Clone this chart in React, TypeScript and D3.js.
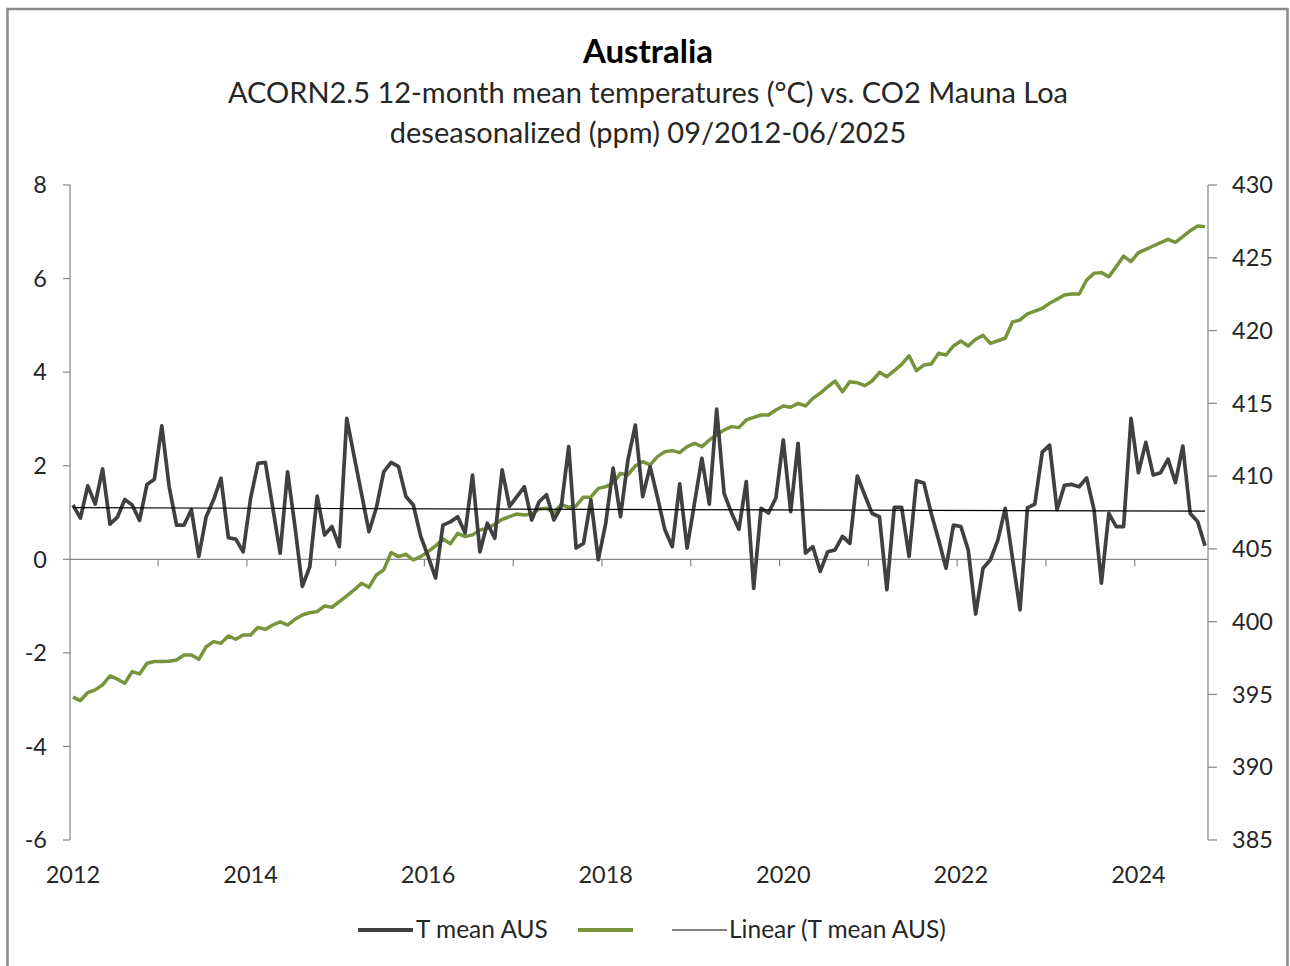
import React from 'react';
import * as d3 from 'd3';

// 12-month mean temperature anomaly, Australia (ACORN2.5), 09/2012 .. 06/2025, monthly
const tempAus = [
  1.16, 0.88, 1.57, 1.18, 1.93, 0.75, 0.90, 1.28, 1.16, 0.83, 1.60, 1.71,
  2.85, 1.55, 0.73, 0.73, 1.06, 0.06, 0.91, 1.27, 1.73, 0.46, 0.43, 0.16,
  1.30, 2.05, 2.07, 1.10, 0.13, 1.87, 0.70, -0.58, -0.16, 1.35, 0.52, 0.70,
  0.27, 3.01, 2.20, 1.40, 0.59, 1.10, 1.87, 2.07, 1.98, 1.34, 1.16, 0.49,
  0.06, -0.40, 0.73, 0.80, 0.91, 0.56, 1.80, 0.16, 0.77, 0.45, 1.91, 1.13,
  1.34, 1.55, 0.84, 1.23, 1.38, 0.84, 1.13, 2.41, 0.24, 0.34, 1.27, -0.01,
  0.77, 1.95, 0.91, 2.12, 2.87, 1.34, 1.98, 1.32, 0.63, 0.27, 1.61, 0.24,
  1.20, 2.16, 1.18, 3.21, 1.41, 0.99, 0.64, 1.66, -0.62, 1.09, 0.99, 1.31,
  2.55, 1.02, 2.48, 0.13, 0.27, -0.26, 0.16, 0.20, 0.49, 0.34, 1.78, 1.38,
  0.98, 0.91, -0.65, 1.11, 1.11, 0.06, 1.68, 1.63, 0.98, 0.41, -0.19, 0.73,
  0.70, 0.20, -1.17, -0.19, -0.01, 0.41, 1.09, 0.00, -1.08, 1.10, 1.18, 2.29,
  2.44, 1.06, 1.58, 1.60, 1.55, 1.74, 1.06, -0.51, 0.98, 0.70, 0.70, 3.01,
  1.85, 2.50, 1.80, 1.85, 2.14, 1.64, 2.42, 0.98, 0.81, 0.29
];

// CO2 Mauna Loa, deseasonalized (ppm), same months
const co2MaunaLoa = [
  394.81, 394.58, 395.13, 395.31, 395.66, 396.27, 396.05, 395.77, 396.57, 396.41, 397.14, 397.26,
  397.26, 397.28, 397.37, 397.71, 397.71, 397.41, 398.28, 398.63, 398.51, 399.02, 398.79, 399.08,
  399.08, 399.61, 399.47, 399.77, 399.99, 399.77, 400.16, 400.46, 400.62, 400.69, 401.08, 400.99,
  401.38, 401.77, 402.18, 402.64, 402.36, 403.21, 403.56, 404.75, 404.47, 404.63, 404.24, 404.47,
  404.81, 405.20, 405.68, 405.35, 406.07, 405.84, 405.96, 406.30, 406.41, 406.69, 407.03, 407.21,
  407.40, 407.33, 407.40, 407.74, 407.79, 407.49, 408.06, 407.86, 407.95, 408.55, 408.55, 409.16,
  409.28, 409.51, 410.19, 410.08, 410.70, 410.99, 410.77, 411.34, 411.68, 411.75, 411.61, 412.02,
  412.25, 412.02, 412.48, 412.83, 413.17, 413.40, 413.33, 413.86, 414.04, 414.20, 414.20, 414.54,
  414.82, 414.73, 415.00, 414.82, 415.34, 415.70, 416.14, 416.53, 415.80, 416.49, 416.42, 416.21,
  416.53, 417.13, 416.83, 417.24, 417.68, 418.27, 417.24, 417.63, 417.70, 418.44, 418.32, 418.94,
  419.28, 418.94, 419.40, 419.67, 419.12, 419.30, 419.47, 420.60, 420.73, 421.14, 421.34, 421.53,
  421.87, 422.15, 422.44, 422.51, 422.51, 423.47, 423.93, 423.98, 423.70, 424.39, 425.12, 424.73,
  425.35, 425.58, 425.81, 426.04, 426.27, 426.06, 426.45, 426.86, 427.18, 427.14
];

const yearLabels = ['2012', '2014', '2016', '2018', '2020', '2022', '2024'];
const leftTicks = [-6, -4, -2, 0, 2, 4, 6, 8];
const rightTicks = [385, 390, 395, 400, 405, 410, 415, 420, 425, 430];

const FONT = "Lato, 'Open Sans', sans-serif";
const AXIS = '#868686';
const TEXT = '#262626';
const T_COLOR = '#404040';
const CO2_COLOR = '#77933C';

const plot = { left: 70, right: 1208, top: 185, bottom: 840 };

export default function App() {
  const n = tempAus.length;
  const idx = d3.range(n);

  const x = d3.scalePoint<number>().domain(idx).range([73, 1205]);
  const step = x.step();
  const yL = d3.scaleLinear().domain([-6, 8]).range([plot.bottom, plot.top]);
  const yR = d3.scaleLinear().domain([385, 430]).range([plot.bottom, plot.top]);

  const tLine = d3.line<number>().x((d, i) => x(i)!).y(d => yL(d));
  const cLine = d3.line<number>().x((d, i) => x(i)!).y(d => yR(d));

  // Excel style linear trendline on the category index
  const mx = d3.mean(idx)!;
  const my = d3.mean(tempAus)!;
  const slope = d3.sum(idx, i => (i - mx) * (tempAus[i] - my)) / d3.sum(idx, i => (i - mx) ** 2);
  const fit = (i: number) => my + slope * (i - mx);

  const y0 = yL(0);
  const majorTicks = d3.range(12, n, 12);

  return (
    <svg width={1290} height={966} style={{ position: 'absolute', left: 0, top: 0, background: '#fff' }}
         fontFamily={FONT}>
      <rect x={7.5} y={9} width={1280} height={990} fill="#fff" stroke="#8a8a8a" strokeWidth={2.5} />

      {/* titles */}
      <text x={648} y={63} textAnchor="middle" fontSize={33} fontWeight="bold" fill="#000">Australia</text>
      <text x={648} y={103} textAnchor="middle" fontSize={29} fill={TEXT}>
        ACORN2.5 12-month mean temperatures (°C) vs. CO2 Mauna Loa
      </text>
      <text x={648} y={143} textAnchor="middle" fontSize={29} fill={TEXT}>
        deseasonalized (ppm) 09/2012-06/2025
      </text>

      {/* left axis */}
      <line x1={plot.left} x2={plot.left} y1={plot.top} y2={plot.bottom} stroke={AXIS} strokeWidth={1.2} />
      {leftTicks.map(t => (
        <g key={t} transform={`translate(0,${yL(t)})`}>
          <line x1={plot.left - 7} x2={plot.left} stroke={AXIS} strokeWidth={1.2} />
          <text x={47} dy="0.35em" textAnchor="end" fontSize={23.5} fill={TEXT}>{t}</text>
        </g>
      ))}

      {/* right axis */}
      <line x1={plot.right} x2={plot.right} y1={plot.top} y2={plot.bottom} stroke={AXIS} strokeWidth={1.2} />
      {rightTicks.map(t => (
        <g key={t} transform={`translate(0,${yR(t)})`}>
          <line x1={plot.right} x2={plot.right + 9} stroke={AXIS} strokeWidth={1.2} />
          <text x={1232} dy="0.35em" textAnchor="start" fontSize={23.5} fill={TEXT}>{t}</text>
        </g>
      ))}

      {/* category axis crosses at 0 */}
      <line x1={plot.left} x2={plot.right} y1={y0} y2={y0} stroke={AXIS} strokeWidth={1.2} />
      {majorTicks.map(i => (
        <line key={i} x1={x(i)! - step / 2} x2={x(i)! - step / 2} y1={y0} y2={y0 + 7} stroke={AXIS} strokeWidth={1.2} />
      ))}
      {yearLabels.map((lab, k) => (
        <text key={lab} x={x(k * 24)!} y={883} textAnchor="middle" fontSize={23.5} fill={TEXT}>{lab}</text>
      ))}

      {/* series */}
      <path d={cLine(co2MaunaLoa)!} fill="none" stroke={CO2_COLOR} strokeWidth={3.5} strokeLinejoin="round" />
      <path d={tLine(tempAus)!} fill="none" stroke={T_COLOR} strokeWidth={3.7} strokeLinejoin="round" />
      <line x1={x(0)} x2={x(n - 1)} y1={yL(fit(0))} y2={yL(fit(n - 1))} stroke="#000" strokeWidth={1.2} />

      {/* legend */}
      <g fontSize={24.5} fill={TEXT}>
        <line x1={358} x2={413} y1={930} y2={930} stroke={T_COLOR} strokeWidth={4} />
        <text x={416} y={938}>T mean AUS</text>
        <line x1={578} x2={633} y1={930} y2={930} stroke={CO2_COLOR} strokeWidth={4} />
        <line x1={672} x2={727} y1={930} y2={930} stroke="#000" strokeWidth={1.2} />
        <text x={729} y={938}>Linear (T mean AUS)</text>
      </g>
    </svg>
  );
}
